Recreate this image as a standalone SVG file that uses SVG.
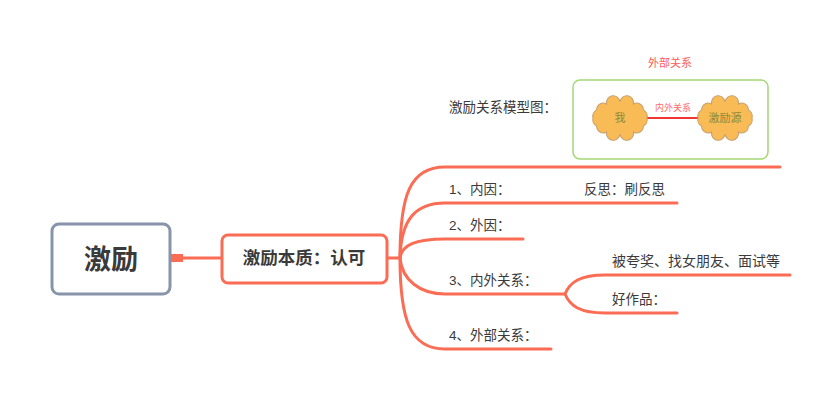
<svg xmlns="http://www.w3.org/2000/svg" width="839" height="401" viewBox="0 0 839 401">
<style>
.t{font-family:"Liberation Sans","Noto Sans CJK SC",sans-serif;fill:#3a3a3a;font-size:13.5px}
.b{font-weight:bold}
.br{fill:none;stroke:#fb6c55;stroke-width:3;stroke-linecap:round}
.cloud{fill:#f9bb55;stroke:#c9a070;stroke-width:1}
</style>
<defs>
<path id="cl" d="M25,0 A6,6 0 0 1 21.65,7 A6,6 0 0 1 12.5,12.12 A6,6 0 0 1 0,14 A6,6 0 0 1 -12.5,12.12 A6,6 0 0 1 -21.65,7 A6,6 0 0 1 -25,0 A6,6 0 0 1 -21.65,-7 A6,6 0 0 1 -12.5,-12.12 A6,6 0 0 1 0,-14 A6,6 0 0 1 12.5,-12.12 A6,6 0 0 1 21.65,-7 A6,6 0 0 1 25,0 Z"/>
</defs>
<rect width="839" height="401" fill="#fff"/>
<g id="connectors">
<rect x="171" y="254" width="12" height="8" fill="#fb6c55"/>
<path class="br" d="M183,258 H222"/>
<path class="br" d="M387,258 H400"/>
<path class="br" d="M400,258 C400,195 410,167 445,167 H780"/>
<path class="br" d="M400,258 C401,220 415,203 445,203 H677"/>
<path class="br" d="M400,258 C402,245 415,239 445,239 H523"/>
<path class="br" d="M400,258 C402,280 420,294 445,294 H565"/>
<path class="br" d="M400,258 C400,320 410,349 445,349 H551"/>
<path class="br" d="M565,294 C570,282 580,275 605,275 H790"/>
<path class="br" d="M565,294 C570,306 580,313 605,313 H677"/>
</g>
<g id="root">
<rect x="52" y="224" width="118" height="70" rx="7" fill="#fff" stroke="#8794aa" stroke-width="3"/>
<text class="t b" x="111" y="269" text-anchor="middle" style="font-size:27px">激励</text>
</g>
<g id="main">
<rect x="222" y="235" width="165" height="48" rx="6" fill="#fff" stroke="#fb6c55" stroke-width="3"/>
<text class="t b" x="304" y="264" text-anchor="middle" style="font-size:17.5px">激励本质：认可</text>
</g>
<g id="model">
<text class="t" x="449" y="112">激励关系模型图：</text>
<rect x="573" y="80" width="195" height="79" rx="7" fill="#fff" stroke="#a5d877" stroke-width="1.5"/>
<text class="t" x="670" y="67" text-anchor="middle" style="font-size:11px;fill:#ff5a5a">外部关系</text>
<line x1="646" y1="118" x2="699" y2="118" stroke="#f03535" stroke-width="2"/>
<text class="t" x="673" y="111" text-anchor="middle" style="font-size:9px;fill:#ff6a6a">内外关系</text>
<g id="me"><use href="#cl" class="cloud" transform="translate(620,118) scale(1.08,1.15)"/>
<text class="t" x="620" y="122" text-anchor="middle" style="font-size:11px;fill:#8a8a3a">我</text></g>
<g id="source"><use href="#cl" class="cloud" transform="translate(725,118) scale(1.08,1.15)"/>
<text class="t" x="725" y="122" text-anchor="middle" style="font-size:11px;fill:#8a8a3a">激励源</text></g>
</g>
<g id="n1"><text class="t" x="449" y="194">1、内因：</text></g>
<g id="n1a"><text class="t" x="584" y="194">反思：刷反思</text></g>
<g id="n2"><text class="t" x="449" y="230">2、外因：</text></g>
<g id="n3"><text class="t" x="449" y="285">3、内外关系：</text></g>
<g id="n3a"><text class="t" x="612" y="266" style="font-size:14px">被夸奖、找女朋友、面试等</text></g>
<g id="n3b"><text class="t" x="612" y="304">好作品：</text></g>
<g id="n4"><text class="t" x="449" y="340">4、外部关系：</text></g>
</svg>
